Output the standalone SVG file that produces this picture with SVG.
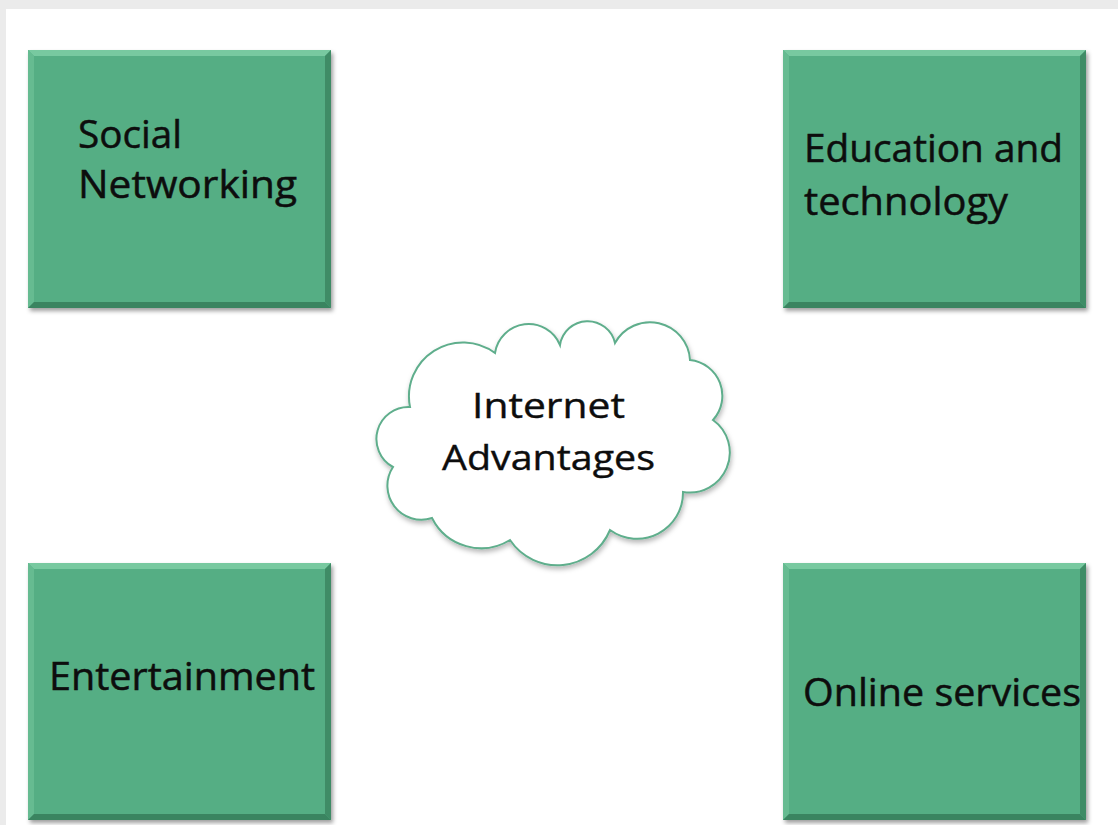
<svg xmlns="http://www.w3.org/2000/svg" width="1118" height="825" viewBox="0 0 1118 825">
<defs>
<filter id="sh" x="-10%" y="-10%" width="125%" height="125%">
<feDropShadow dx="2" dy="3" stdDeviation="2.2" flood-color="#000" flood-opacity="0.38"/>
</filter>
<filter id="csh" x="-10%" y="-10%" width="125%" height="130%">
<feDropShadow dx="1" dy="3" stdDeviation="2.5" flood-color="#000" flood-opacity="0.28"/>
</filter>
</defs>
<style>
.box{fill:#55ae84}
.bt{fill:#78c9a0}
.bl{fill:#66bb91}
.br{fill:#3f8c66}
.bb{fill:#3a8460}
.lbl{font-family:"Open Sans","Noto Sans","Liberation Sans",sans-serif;font-size:39px;fill:#0d0d0d;stroke:#0d0d0d;stroke-width:0.5}
.cl{font-family:"Open Sans","Noto Sans","Liberation Sans",sans-serif;font-size:35px;fill:#0d0d0d;stroke:#0d0d0d;stroke-width:0.4}
.cloud{fill:#ffffff;stroke:#5fae8c;stroke-width:2}
</style>
<rect x="0" y="0" width="1118" height="825" fill="#ebebeb"/>
<rect x="6" y="9" width="1112" height="816" fill="#ffffff"/>
<g id="connectors"/>
<g id="node-social">
<g filter="url(#sh)"><rect class="box" x="28" y="50" width="303" height="258"/></g>
<polygon class="bt" points="28,50 331,50 325,56 34,56"/>
<polygon class="bl" points="28,50 34,56 34,302 28,308"/>
<polygon class="br" points="331,50 331,308 325,302 325,56"/>
<polygon class="bb" points="28,308 331,308 325,302 34,302"/>
<text class="lbl" x="78" y="148" textLength="104" lengthAdjust="spacingAndGlyphs">Social</text>
<text class="lbl" x="78" y="198" textLength="219" lengthAdjust="spacingAndGlyphs">Networking</text>
</g>
<g id="node-education">
<g filter="url(#sh)"><rect class="box" x="783" y="50" width="303" height="258"/></g>
<polygon class="bt" points="783,50 1086,50 1080,56 789,56"/>
<polygon class="bl" points="783,50 789,56 789,302 783,308"/>
<polygon class="br" points="1086,50 1086,308 1080,302 1080,56"/>
<polygon class="bb" points="783,308 1086,308 1080,302 789,302"/>
<text class="lbl" x="804" y="162" textLength="259" lengthAdjust="spacingAndGlyphs">Education and</text>
<text class="lbl" x="804" y="215" textLength="204" lengthAdjust="spacingAndGlyphs">technology</text>
</g>
<g id="node-entertainment">
<g filter="url(#sh)"><rect class="box" x="28" y="563" width="303" height="257"/></g>
<polygon class="bt" points="28,563 331,563 325,569 34,569"/>
<polygon class="bl" points="28,563 34,569 34,814 28,820"/>
<polygon class="br" points="331,563 331,820 325,814 325,569"/>
<polygon class="bb" points="28,820 331,820 325,814 34,814"/>
<text class="lbl" x="49" y="690" textLength="266" lengthAdjust="spacingAndGlyphs">Entertainment</text>
</g>
<g id="node-online">
<g filter="url(#sh)"><rect class="box" x="783" y="563" width="303" height="257"/></g>
<polygon class="bt" points="783,563 1086,563 1080,569 789,569"/>
<polygon class="bl" points="783,563 789,569 789,814 783,820"/>
<polygon class="br" points="1086,563 1086,820 1080,814 1080,569"/>
<polygon class="bb" points="783,820 1086,820 1080,814 789,814"/>
<text class="lbl" x="803" y="706" textLength="278" lengthAdjust="spacingAndGlyphs">Online services</text>
</g>
<g id="node-internet">
<path class="cloud" filter="url(#csh)" d="M393,467 A32,32 0 0 1 410,407 A54,54 0 0 1 495,353 A34,34 0 0 1 560,345 A28,28 0 0 1 615,343 A40,40 0 0 1 690,360 A36,36 0 0 1 713,420 A40,40 0 0 1 683,492 A46,46 0 0 1 610,530 A57,57 0 0 1 510,540 A55,55 0 0 1 432,518 A34,34 0 0 1 393,467 Z"/>
<text class="cl" x="472" y="418" textLength="153" lengthAdjust="spacingAndGlyphs">Internet</text>
<text class="cl" x="442" y="470" textLength="213" lengthAdjust="spacingAndGlyphs">Advantages</text>
</g>
</svg>
